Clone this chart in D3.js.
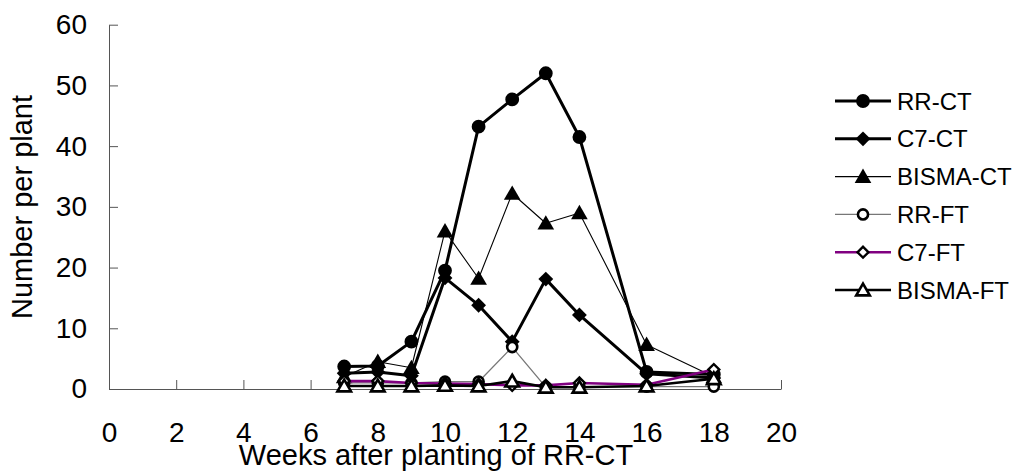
<!DOCTYPE html>
<html><head><meta charset="utf-8">
<script src="https://cdn.jsdelivr.net/npm/d3@7"></script>
<style>
body{margin:0;background:#fff}
text{font-family:"Liberation Sans",Arial,sans-serif;fill:#000}
</style>
</head><body>
<svg id="c" width="1019" height="471"></svg>
<script>
const weeks = [7, 8, 9, 10, 11, 12, 13, 14, 16, 18];
const seriesNames = ["RR-CT", "C7-CT", "BISMA-CT", "RR-FT", "C7-FT", "BISMA-FT"];
const rrCT    = [3.7, 3.8, 7.8, 19.5, 43.2, 47.7, 52.0, 41.5, 2.8, 2.4];
const c7CT    = [2.6, 2.8, 2.2, 18.3, 13.8, 7.8, 18.1, 12.2, 2.5, 1.8];
const bismaCT = [2.0, 4.5, 3.5, 26.0, 18.2, 32.2, 27.3, 29.0, 7.3, 2.0];
const rrFT    = [1.0, 1.0, 1.0, 1.2, 1.2, 6.9, 0.3, 0.4, 0.4, 0.4];
const c7FT    = [1.3, 1.3, 1.0, 0.9, 0.8, 0.6, 0.6, 1.0, 0.7, 3.2];
const bismaFT = [0.5, 0.5, 0.5, 0.6, 0.5, 1.3, 0.3, 0.3, 0.5, 1.7];
const xTicks = [0, 2, 4, 6, 8, 10, 12, 14, 16, 18, 20];
const yTicks = [0, 10, 20, 30, 40, 50, 60];
const xTitle = "Weeks after planting of RR-CT";
const yTitle = "Number per plant";

const values = [rrCT, c7CT, bismaCT, rrFT, c7FT, bismaFT];
const styles = [
  {line:"#000", lw:3,   sym:"circle",   fill:"#000", size:150, sw:0},
  {line:"#000", lw:3,   sym:"diamond",  fill:"#000", size:110, sw:0},
  {line:"#000", lw:1.1, sym:"triangle", fill:"#000", size:120, sw:0},
  {line:"#777", lw:1.3, sym:"circle",   fill:"#fff", size:80,  sw:2.6},
  {line:"#800080", lw:2.6, sym:"diamond", fill:"#fff", size:60, sw:2.4},
  {line:"#000", lw:2.6, sym:"triangle", fill:"#fff", size:80,  sw:2.6}
];

const svg = d3.select("#c");
const x = d3.scaleLinear().domain([0, 20]).range([109, 781]);
const y = d3.scaleLinear().domain([0, 60]).range([389, 24.7]);

const symType = {circle:d3.symbolCircle, diamond:d3.symbolSquare, triangle:d3.symbolTriangle};
function marker(g, st, cx, cy) {
  g.append("path")
    .attr("d", d3.symbol().type(symType[st.sym]).size(st.size)())
    .attr("transform", `translate(${cx},${cy})` + (st.sym === "diamond" ? " rotate(45)" : "") + (st.sym === "triangle" ? " translate(0,1.5)" : ""))
    .attr("fill", st.fill)
    .attr("stroke", st.sw ? "#000" : "none")
    .attr("stroke-width", st.sw);
}

// axes
const yAxis = svg.append("g").attr("transform", "translate(109,0)")
  .call(d3.axisLeft(y).tickValues(yTicks).tickSize(-9).tickSizeOuter(0).tickPadding(22).tickFormat(d3.format("d")));
const xAxis = svg.append("g").attr("transform", "translate(0,389)")
  .call(d3.axisBottom(x).tickValues(xTicks).tickSize(-9).tickSizeOuter(0).tickPadding(33).tickFormat(d3.format("d")));
[yAxis, xAxis].forEach(a => {
  a.select(".domain").attr("stroke", "#555");
  a.selectAll(".tick line").attr("stroke", "#555");
  a.selectAll(".tick text").attr("font-size", 28).attr("font-family", '"Liberation Sans",Arial,sans-serif').attr("fill", "#000");
});

// series
const line = d3.line().x((d, i) => x(weeks[i])).y(d => y(d));
values.forEach((vals, si) => {
  const st = styles[si];
  const g = svg.append("g");
  g.append("path").attr("d", line(vals)).attr("fill", "none")
    .attr("stroke", st.line).attr("stroke-width", st.lw).attr("stroke-linejoin", "round");
  vals.forEach((v, i) => marker(g, st, x(weeks[i]), y(v)));
});

// legend
const lg = svg.append("g");
seriesNames.forEach((name, i) => {
  const st = styles[i];
  const ly = 101 + i * 37.8;
  lg.append("line").attr("x1", 835).attr("x2", 891).attr("y1", ly).attr("y2", ly)
    .attr("stroke", st.line).attr("stroke-width", st.lw);
  marker(lg, st, 863, ly);
  lg.append("text").attr("x", 897).attr("y", ly).attr("dy", "0.36em")
    .attr("font-size", 24).text(name);
});

// titles
svg.append("text").attr("x", 436).attr("y", 465).attr("text-anchor", "middle")
  .attr("font-size", 29).text(xTitle);
svg.append("text").attr("transform", "translate(32,207) rotate(-90)").attr("text-anchor", "middle")
  .attr("font-size", 29).text(yTitle);
</script>
</body></html>
